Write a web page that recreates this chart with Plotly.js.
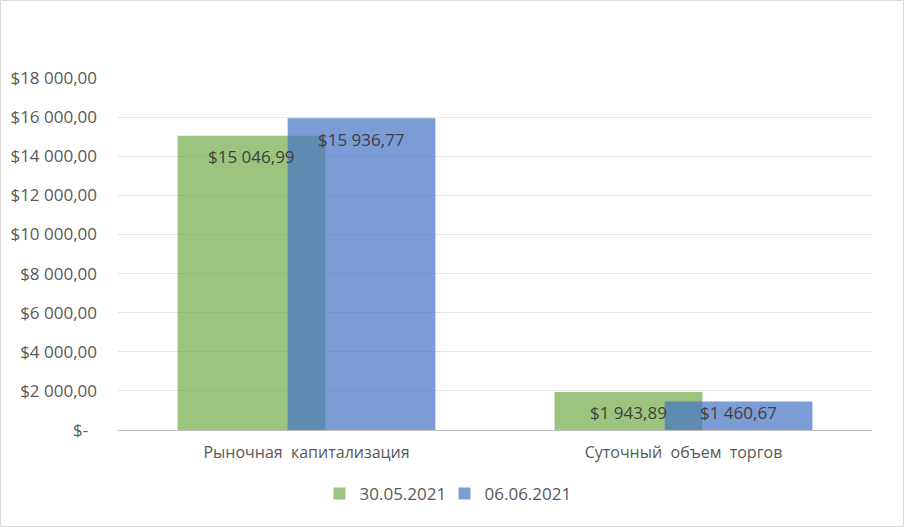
<!DOCTYPE html>
<html><head><meta charset="utf-8">
<script src="https://cdn.plot.ly/plotly-3.0.1.min.js"></script>
<style>html,body{margin:0;padding:0;background:#fff}#chart{width:904px;height:527px}</style>
</head><body><div id="chart"></div>
<script>
const categories = ["Рыночная  капитализация", "Суточный  объем  торгов"];
const seriesNames = ["30.05.2021", "06.06.2021"];
const values0530 = [15046.99, 1943.89];
const values0606 = [15936.77, 1460.67];
const tickVals = [0, 2000, 4000, 6000, 8000, 10000, 12000, 14000, 16000, 18000];
const tickText = ["$-\u00A0\u00A0", "$2 000,00", "$4 000,00", "$6 000,00", "$8 000,00", "$10 000,00", "$12 000,00", "$14 000,00", "$16 000,00", "$18 000,00"];

function fmt(v){
  const parts = v.toFixed(2).split(".");
  const intPart = parts[0].replace(/\B(?=(\d{3})+(?!\d))/g, " ");
  return "$" + intPart + "," + parts[1];
}

const YMAX = 18000;
const W = 0.392, OFF0 = -0.342, OFF1 = -0.05;
const L=118, R=32, T=78, B=97, PW=904-L-R, PH=527-T-B;
const series = [
  {name:seriesNames[0], vals:values0530, off:OFF0, color:"rgba(112,173,71,0.7)"},
  {name:seriesNames[1], vals:values0606, off:OFF1, color:"rgba(68,114,196,0.7)"}
];
const traces = series.map(s => ({
  type:"bar", name:s.name, x:categories, y:s.vals, width:W, offset:s.off,
  marker:{color:s.color, line:{width:0}}, textposition:"none", hoverinfo:"skip"
}));

// data labels placed "inside end" like Excel
const annotations = [];
series.forEach(s => {
  s.vals.forEach((v, i) => {
    const hpx = v / YMAX * PH;
    const drop = Math.min(21, hpx - 18);
    annotations.push({
      xref:"x", yref:"y", x: i + s.off + W/2, y: v, yshift: -drop,
      xanchor:"center", yanchor:"middle", showarrow:false, text: fmt(v),
      font:{family:"Open Sans", size:17, color:"#404040"}
    });
  });
});

const layout = {
  width:904, height:527,
  margin:{l:L, r:R, t:T, b:B},
  barmode:"overlay",
  paper_bgcolor:"#fff", plot_bgcolor:"#fff",
  font:{family:"Open Sans", size:17, color:"#595959"},
  showlegend:true,
  legend:{orientation:"h", x:(444.5-L)/PW, xanchor:"center", y:(T+PH-494)/PH, yanchor:"middle",
          font:{family:"Open Sans", size:17, color:"#595959"}, itemwidth:30, entrywidth:80,
          traceorder:"normal"},
  xaxis:{type:"category", showline:true, linecolor:"#BFBFBF", linewidth:1, ticks:"", showgrid:false,
         tickfont:{family:"Open Sans", size:16, color:"#595959"}, ticklabelstandoff:8, fixedrange:true},
  yaxis:{range:[0,YMAX], tickvals:tickVals, ticktext:tickText, showgrid:true, gridcolor:"#E6E6E6",
         gridwidth:1, zeroline:false, showline:false, ticks:"", ticklabelstandoff:20,
         tickfont:{family:"Open Sans", size:17, color:"#595959"}, fixedrange:true},
  annotations: annotations,
  shapes:[{type:"rect", xref:"paper", yref:"paper",
           x0:(0.5-L)/PW, x1:(903.5-L)/PW, y0:(T+PH-526.5)/PH, y1:(T+PH-0.5)/PH,
           line:{color:"#D9D9D9", width:1}, fillcolor:"rgba(0,0,0,0)"}]
};
Plotly.newPlot("chart", traces, layout, {displayModeBar:false, staticPlot:true});
</script></body></html>
